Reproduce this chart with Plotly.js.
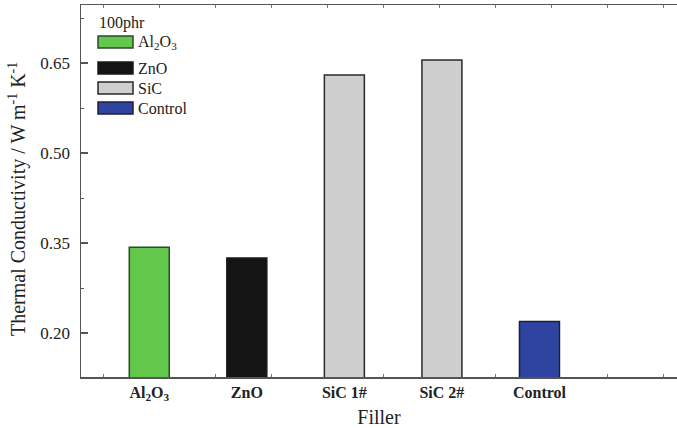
<!DOCTYPE html>
<html>
<head>
<meta charset="utf-8">
<script src="https://cdn.plot.ly/plotly-3.0.1.min.js"></script>
<style>html,body{margin:0;padding:0;background:#fff;}#chart{width:677px;height:428px;}</style>
</head>
<body>
<div id="chart"></div>
<script>
const categories = ["Al<sub>2</sub>O<sub>3</sub>", "ZnO", "SiC 1#", "SiC 2#", "Control"];
const conductivity = [0.343, 0.325, 0.630, 0.655, 0.219];
const barColors = ["#62c74b", "#141414", "#cfcfcf", "#cfcfcf", "#2f44a0"];
const barEdges = ["#2b4a28", "#1a1a1a", "#2a2a2a", "#2a2a2a", "#1c1f3a"];
const legendTitle = "100phr";
const legendNames = ["Al<sub>2</sub>O<sub>3</sub>", "ZnO", "SiC", "Control"];
const legendColors = ["#62c74b", "#141414", "#cfcfcf", "#2f44a0"];
const legendEdges = ["#2b4a28", "#1a1a1a", "#2a2a2a", "#1c1f3a"];
const yTicks = [0.20, 0.35, 0.50, 0.65];
const yTitle = "Thermal Conductivity / W m<sup>-1</sup> K<sup>-1</sup>";
const xTitle = "Filler";

const FONT = "Liberation Serif";
const AX = "#555555";

const trace = {
  type: "bar",
  x: categories,
  y: conductivity,
  width: 0.41,
  marker: {color: barColors, line: {color: barEdges, width: 1.5}},
  showlegend: false,
  hoverinfo: "x+y"
};

// legend built from the legend arrays (pixel offsets from the plot's top-left)
const legendOffsets = [37, 63, 83, 103];
const shapes = [];
const annotations = [{
  xref: "paper", yref: "paper", x: 0, y: 1, xshift: 16, yshift: -18,
  xanchor: "left", yanchor: "middle", showarrow: false,
  text: legendTitle, font: {family: FONT, size: 16, color: "#222"}
}, {
  xref: "paper", yref: "paper", x: 0, y: 0.5, xshift: -64, yshift: -8,
  xanchor: "center", yanchor: "middle", showarrow: false, textangle: -90,
  text: yTitle, font: {family: FONT, size: 20, color: "#222"}
}];
legendNames.forEach((name, i) => {
  const off = legendOffsets[i];
  shapes.push({
    type: "rect", xref: "paper", yref: "paper",
    xsizemode: "pixel", ysizemode: "pixel", xanchor: 0, yanchor: 1,
    x0: 17, x1: 52, y0: -off - 6, y1: -off + 6,
    fillcolor: legendColors[i], line: {color: legendEdges[i], width: 1.5}
  });
  annotations.push({
    xref: "paper", yref: "paper", x: 0, y: 1, xshift: 55, yshift: -off,
    xanchor: "left", yanchor: "middle", showarrow: false,
    text: name, font: {family: FONT, size: 16, color: "#222"}
  });
});

const layout = {
  width: 677, height: 428,
  margin: {l: 81, r: 0, t: 5, b: 51},
  paper_bgcolor: "#fff", plot_bgcolor: "#fff",
  font: {family: FONT, color: "#222"},
  showlegend: false,
  xaxis: {
    type: "category",
    range: [-0.70, 5.41],
    showline: true, linecolor: AX, linewidth: 1.5, mirror: true,
    ticks: "", showgrid: false, zeroline: false,
    tickfont: {family: FONT, size: 16, color: "#222", weight: "bold"},
    title: {text: xTitle, font: {family: FONT, size: 20, color: "#222"}, standoff: 11}
  },
  xaxis2: {
    overlaying: "x", anchor: "y", side: "bottom",
    range: [-22/56, 574/56], dtick: 1, tick0: 0,
    showticklabels: false, ticks: "inside", ticklen: 3, tickcolor: "#777", tickwidth: 1,
    showline: true, linecolor: AX, linewidth: 1.5, mirror: "ticks",
    showgrid: false, zeroline: false, layer: "below traces"
  },
  yaxis: {
    range: [0.126667, 0.746667],
    tickvals: yTicks, ticktext: yTicks.map(v => v.toFixed(2)),
    ticks: "inside", ticklen: 7, tickwidth: 1.5, tickcolor: AX,
    ticklabelstandoff: 6,
    minor: {dtick: 0.075, tick0: 0.125, ticks: "inside", ticklen: 3, tickcolor: AX, tickwidth: 1},
    showline: true, linecolor: AX, linewidth: 1.5, mirror: false,
    showgrid: false, zeroline: false,
    tickfont: {family: FONT, size: 17, color: "#222"}
  },
  shapes: shapes,
  annotations: annotations
};

Plotly.newPlot("chart", [trace, {type: "scatter", x: [], y: [], xaxis: "x2", showlegend: false}], layout, {displayModeBar: false, staticPlot: true});
</script>
</body>
</html>
